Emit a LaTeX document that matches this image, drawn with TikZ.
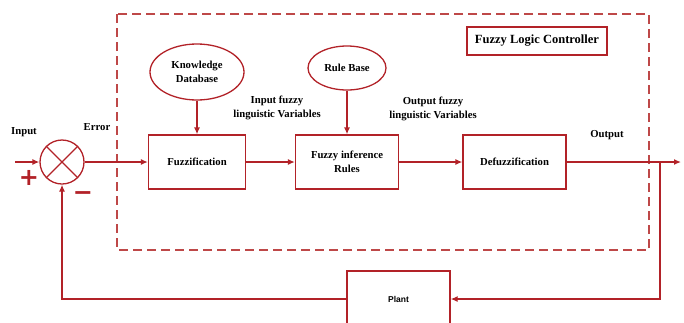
\documentclass[tikz,border=0pt]{standalone}
\usepackage{fontspec}
\setmainfont{Liberation Serif}
\setsansfont{Liberation Sans}
\newfontfamily\signfont{DejaVu Sans}
\usetikzlibrary{arrows.meta,shapes.geometric}
\definecolor{flcred}{RGB}{178,34,40}
\definecolor{dashred}{RGB}{190,72,72}

\begin{document}
\begin{tikzpicture}[x=1pt,y=-1pt,
		line width=1.3pt,
		every node/.style={font=\fontsize{10.7}{13.5}\selectfont\bfseries, align=center},
		block/.style={draw=flcred, rectangle, inner sep=0pt},
		base/.style={draw=flcred, ellipse, inner sep=0pt},
		sign/.style={text=flcred, font=\signfont\fontsize{24}{24}\selectfont\bfseries},
		link/.style={draw=flcred, -{Latex[length=7pt,width=6pt]}}]
		\useasboundingbox (0,0) rectangle (684,322);
		\clip (0,0) rectangle (684,322);
		% controller frame
		\draw [dashred, line width=1.6pt, dash pattern=on 9pt off 5pt]
		(117,14) rectangle (649,250);
		\node [block, minimum width=140pt, minimum height=28pt, font=\fontsize{12.5}{15}\selectfont\bfseries]
		(flc) at (537,41) {Fuzzy Logic Controller};
		% blocks
		\node [draw=flcred, circle, minimum size=44pt, inner sep=0pt] (sum) at (62,162) {};
		\draw [flcred] (sum.north east) -- (sum.south west) (sum.north west) -- (sum.south east);
		\node [block, minimum width=97pt, minimum height=54pt] (fuzz) at (197,162) {Fuzzification};
		\node [block, minimum width=103pt, minimum height=54pt] (infer) at (347,162) {Fuzzy inference\\Rules};
		\node [block, minimum width=103pt, minimum height=54pt] (defuzz) at (514.5,162) {Defuzzification};
		\node [base, minimum width=94pt, minimum height=56pt] (know) at (197,72) {Knowledge\\Database};
		\node [base, minimum width=78pt, minimum height=44pt] (rules) at (347,68) {Rule Base};
		\node [block, minimum width=103pt, minimum height=56pt, font=\sffamily\fontsize{8.5}{10}\selectfont\bfseries]
		(plant) at (398.5,299) {Plant};
		% labels
		\node (inlab) at (24,132) {Input};
		\node (errlab) at (97,127) {Error};
		\node (outlab) at (607,135) {Output};
		\node (invar) at (277,108) {Input fuzzy\\linguistic Variables};
		\node (outvar) at (433,109) {Output fuzzy\\linguistic Variables};
		\node [sign] (plus) at (29,178) {+};
		\node [sign] (minus) at (83,196) {−};
		% connectors
		\coordinate (in) at (15,162);
		\coordinate (tap) at (660,162);
		\coordinate (out) at (681,162);
		\draw [link] (in) -- (sum.west);
		\draw [link] (sum.east) -- (fuzz.west);
		\draw [link] (fuzz.east) -- (infer.west);
		\draw [link] (infer.east) -- (defuzz.west);
		\draw [link] (defuzz.east) -- (out);
		\draw [link] (know.south) -- (fuzz.north);
		\draw [link] (rules.south) -- (infer.north);
		\draw [link] (tap) |- (plant.east);
		\draw [link] (plant.west) -| (sum.south);
	\end{tikzpicture}
\end{document}
